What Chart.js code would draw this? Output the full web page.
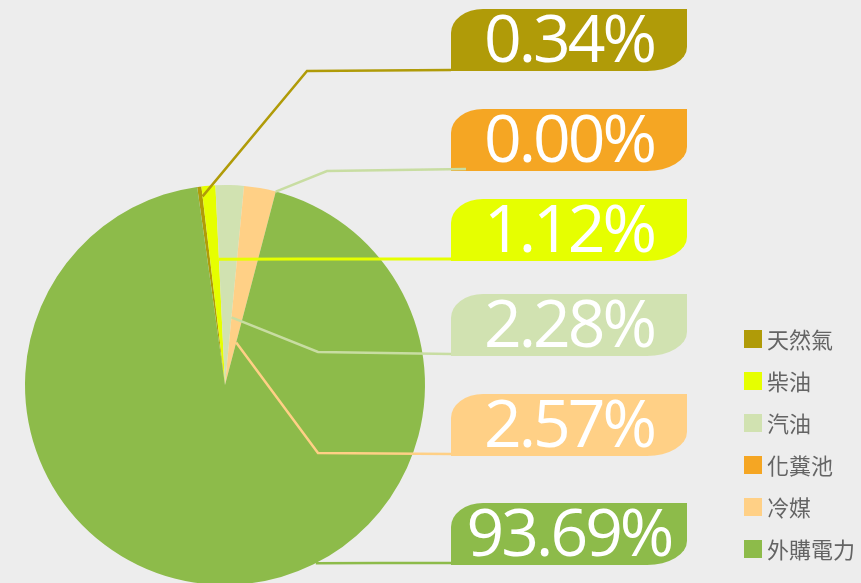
<!DOCTYPE html>
<html>
<head>
<meta charset="utf-8">
<script src="https://cdn.jsdelivr.net/npm/chart.js@4.4.1/dist/chart.umd.min.js"></script>
<style>
  html, body { margin: 0; padding: 0; background: #ededed; overflow: hidden; }
  #wrap { position: absolute; left: 0; top: 0; width: 861px; height: 600px; }
</style>
</head>
<body>
<div id="wrap"><canvas id="pie" width="861" height="600"></canvas></div>
<script>
// data
const labels = ['天然氣', '柴油', '汽油', '化糞池', '冷媒', '外購電力'];
const values = [0.34, 1.12, 2.28, 0.00, 2.57, 93.69];
const colors = ['#b09b08', '#e6ff00', '#d1e2b1', '#f5a623', '#ffd086', '#8dbb4a'];

// callout boxes, top to bottom: which label, where the line leaves the pie
const calloutOrder = [0, 3, 1, 2, 4, 5];
const boxTops = [9, 109, 199, 294, 394, 503];
const anchors = [
  { slice: 0, frac: 1, r: 0.95 },
  { slice: 4, frac: 1, r: 1.0 },
  { slice: 1, frac: 1, r: 0.63 },
  { slice: 2, frac: 1, r: 0.34 },
  { slice: 4, frac: 1, r: 0.22 },
  { slice: 5, frac: 0.41, r: 1.0 },
];
const elbows = [[307, 71], [327, 171], [300, 259], [318, 352], [318, 453], [380, 563]];
const lineEnds = [[451, 70], [466, 169], [451, 259], [451, 354], [451, 454], [451, 563]];
const lineColors = ['#b09b08', '#c8dda2', '#e6ff00', '#c8dda2', '#ffd086', '#8dbb4a'];
const lineWidths = [2.5, 2.5, 3, 2.5, 2.5, 2.5];

const BOX_X = 451;
const BOX_W = 236;
const BOX_H = 62;

function boxPath(ctx, x, y, w, h) {
  const x2 = x + w;
  const y2 = y + h;
  ctx.beginPath();
  ctx.moveTo(x + 32, y);
  ctx.lineTo(x2, y);
  ctx.lineTo(x2, y2 - 24);
  ctx.ellipse(x2 - 40, y2 - 24, 40, 24, 0, 0, Math.PI / 2);
  ctx.lineTo(x, y2);
  ctx.lineTo(x, y + 24);
  ctx.ellipse(x + 32, y + 24, 32, 24, 0, Math.PI, Math.PI * 1.5);
  ctx.closePath();
}

const callouts = {
  id: 'callouts',
  afterDraw(chart) {
    const ctx = chart.ctx;
    const arcs = chart.getDatasetMeta(0).data;

    ctx.save();
    // boxes with percentages
    calloutOrder.forEach((idx, i) => {
      const y = boxTops[i];
      ctx.fillStyle = colors[idx];
      boxPath(ctx, BOX_X, y, BOX_W, BOX_H);
      ctx.fill();

      ctx.fillStyle = '#ffffff';
      ctx.font = '66px "Open Sans"';
      ctx.letterSpacing = '-3px';
      ctx.textAlign = 'center';
      ctx.textBaseline = 'alphabetic';
      ctx.fillText(values[idx].toFixed(2) + '%', BOX_X + BOX_W / 2, y + 53);
    });
    ctx.letterSpacing = '0px';

    // leader lines
    anchors.forEach((a, i) => {
      const arc = arcs[a.slice];
      const ang = arc.startAngle + a.frac * (arc.endAngle - arc.startAngle);
      const sx = arc.x + Math.cos(ang) * arc.outerRadius * a.r;
      const sy = arc.y + Math.sin(ang) * arc.outerRadius * a.r;
      ctx.strokeStyle = lineColors[i];
      ctx.lineWidth = lineWidths[i];
      ctx.beginPath();
      ctx.moveTo(sx, sy);
      ctx.lineTo(elbows[i][0], elbows[i][1]);
      ctx.lineTo(lineEnds[i][0], lineEnds[i][1]);
      ctx.stroke();
    });

    // legend
    ctx.font = '22px "Noto Sans CJK TC"';
    ctx.textAlign = 'left';
    ctx.textBaseline = 'middle';
    labels.forEach((name, i) => {
      const cy = 339 + i * 42;
      ctx.fillStyle = colors[i];
      ctx.fillRect(744, cy - 9, 18, 18);
      ctx.fillStyle = '#646464';
      ctx.fillText(name, 767, cy + 1);
    });
    ctx.restore();
  },
};

new Chart(document.getElementById('pie'), {
  type: 'pie',
  data: {
    labels,
    datasets: [{
      data: values,
      backgroundColor: colors,
      borderWidth: 0,
    }],
  },
  options: {
    responsive: false,
    animation: false,
    rotation: -8,
    layout: { padding: { left: 25, top: 185, right: 436, bottom: 15 } },
    plugins: {
      legend: { display: false },
      tooltip: { enabled: false },
    },
  },
  plugins: [callouts],
});
</script>
</body>
</html>
